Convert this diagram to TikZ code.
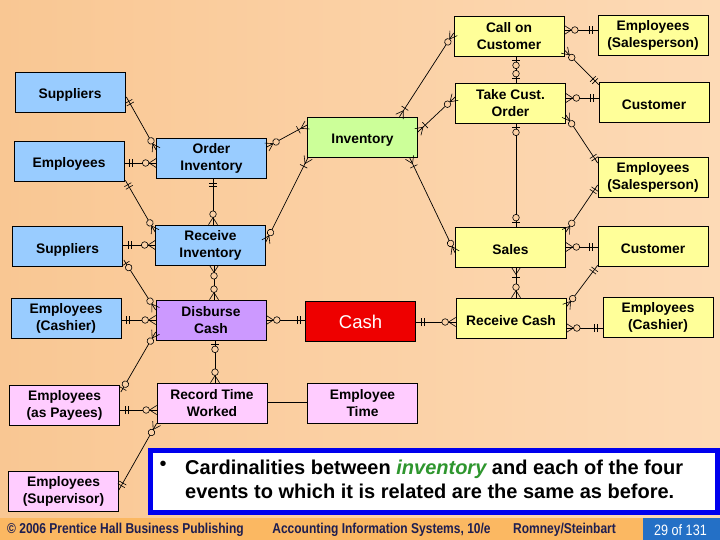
\documentclass[tikz,border=0pt]{standalone}
\usepackage{fontspec}
\setmainfont{Liberation Sans}
\newfontfamily\narrowfont[FakeStretch=0.84]{Liberation Sans}
\usetikzlibrary{decorations.markings,calc}
\definecolor{bgL}{HTML}{F9C793}
\definecolor{bgR}{HTML}{FDDAB6}
\definecolor{bgc}{HTML}{FBD0A4}
\definecolor{blueBox}{HTML}{99CCFF}
\definecolor{yelBox}{HTML}{FFFF99}
\definecolor{grnBox}{HTML}{CCFF99}
\definecolor{purBox}{HTML}{CC99FF}
\definecolor{redBox}{HTML}{EE0000}
\definecolor{pinkBox}{HTML}{FFCCFF}
\definecolor{frameBlue}{HTML}{0000EE}
\definecolor{invGreen}{HTML}{2E962E}
\definecolor{footOrange}{HTML}{FBB862}
\definecolor{footBlue}{HTML}{2470C6}
\definecolor{footText}{HTML}{1E1E50}
\tikzset{
  ent/.style={draw=black, line width=0.7pt, minimum width=110pt, minimum height=40pt,
    inner sep=0pt, align=center, font=\bfseries\fontsize{13.8}{17}\selectfont,
    execute at begin node={\rule{0pt}{16pt}}},
  cn/.style={draw=black, line width=0.7pt},
  tk/.style={line width=0.6pt},
  s1/.style={postaction={decorate,decoration={markings,
    mark=at position 5pt with {\draw[tk] (0pt,-4pt)--(0pt,4pt);},
    mark=at position 8pt with {\draw[tk] (0pt,-4pt)--(0pt,4pt);}}}},
  e1/.style={postaction={decorate,decoration={markings,
    mark=at position -5pt with {\draw[tk] (0pt,-4pt)--(0pt,4pt);},
    mark=at position -8pt with {\draw[tk] (0pt,-4pt)--(0pt,4pt);}}}},
  sZM/.style={postaction={decorate,decoration={markings,
    mark=at position 7pt with {\draw[tk] (-7pt,4.5pt)--(0pt,0pt)--(-7pt,-4.5pt);},
    mark=at position 10.5pt with {\draw[tk,fill=bgc] (0pt,0pt) circle (3.3pt);}}}},
  eZM/.style={postaction={decorate,decoration={markings,
    mark=at position -7pt with {\draw[tk] (7pt,4.5pt)--(0pt,0pt)--(7pt,-4.5pt);},
    mark=at position -10.5pt with {\draw[tk,fill=bgc] (0pt,0pt) circle (3.3pt);}}}},
  sZO/.style={postaction={decorate,decoration={markings,
    mark=at position 4pt with {\draw[tk] (0pt,-4pt)--(0pt,4pt);},
    mark=at position 9pt with {\draw[tk,fill=bgc] (0pt,0pt) circle (3.3pt);}}}},
  eZO/.style={postaction={decorate,decoration={markings,
    mark=at position -4pt with {\draw[tk] (0pt,-4pt)--(0pt,4pt);},
    mark=at position -9pt with {\draw[tk,fill=bgc] (0pt,0pt) circle (3.3pt);}}}},
  sOM/.style={postaction={decorate,decoration={markings,
    mark=at position 7pt with {\draw[tk] (-7pt,4.5pt)--(0pt,0pt)--(-7pt,-4.5pt);},
    mark=at position 10pt with {\draw[tk] (0pt,-4pt)--(0pt,4pt);}}}},
  eOM/.style={postaction={decorate,decoration={markings,
    mark=at position -7pt with {\draw[tk] (7pt,4.5pt)--(0pt,0pt)--(7pt,-4.5pt);},
    mark=at position -10pt with {\draw[tk] (0pt,-4pt)--(0pt,4pt);}}}},
  foot/.style={font=\narrowfont\bfseries\fontsize{14.3}{16}\selectfont, text=footText, inner sep=0pt}
}
\begin{document}
\begin{tikzpicture}[x=1pt,y=-1pt]
\useasboundingbox (0,0) rectangle (720,540);
\shade[left color=bgL, right color=bgR] (0,0) rectangle (720,518);
\fill[footOrange] (0,518) rectangle (643,540);
\fill[footBlue] (643,518) rectangle (720,540);

% entities / events
\node[ent, fill=blueBox] (sup1) at (70,92) {Suppliers};
\node[ent, fill=blueBox] (emp1) at (69,161) {Employees};
\node[ent, fill=blueBox] (ordInv) at (211.5,158) {Order\\Inventory};
\node[ent, fill=grnBox] (inv) at (362.5,137) {Inventory};
\node[ent, fill=yelBox] (callC) at (509,36) {Call on\\Customer};
\node[ent, fill=yelBox] (empS1) at (653,35) {Employees\\(Salesperson)};
\node[ent, fill=yelBox] (takeC) at (510.5,103) {Take Cust.\\Order};
\node[ent, fill=yelBox] (cust1) at (654,102) {Customer};
\node[ent, fill=yelBox] (empS2) at (653,177) {Employees\\(Salesperson)};
\node[ent, fill=blueBox] (sup2) at (67.5,246.5) {Suppliers};
\node[ent, fill=blueBox] (recInv) at (210.5,245) {Receive\\Inventory};
\node[ent, fill=blueBox] (empC1) at (66,318) {Employees\\(Cashier)};
\node[ent, fill=purBox] (disC) at (211,320) {Disburse\\Cash};
\node[ent, fill=redBox, font=\fontsize{18.5}{20}\selectfont, text=white] (cash) at (360.5,321) {Cash};
\node[ent, fill=pinkBox] (empP) at (64.5,405) {Employees\\(as Payees)};
\node[ent, fill=pinkBox] (recT) at (212,403) {Record Time\\Worked};
\node[ent, fill=pinkBox] (empT) at (362.5,403) {Employee\\Time};
\node[ent, fill=yelBox] (sales) at (510.5,247) {Sales};
\node[ent, fill=yelBox] (cust2) at (653,246) {Customer};
\node[ent, fill=yelBox] (recC) at (511,318) {Receive Cash};
\node[ent, fill=yelBox] (empC2) at (658,317) {Employees\\(Cashier)};
\node[ent, fill=pinkBox] (empSup) at (63.5,491.5) {Employees\\(Supervisor)};

% connectors
\draw[cn,s1,eZM] ($(sup1.east)+(1,5)$) -- ($(ordInv.west)+(0,-8)$);
\draw[cn,s1,eZM] ($(emp1.east)+(0,2)$) -- ($(ordInv.west)+(0,5)$);
\draw[cn,s1,eZM] ($(emp1.south east)+(1,-1)$) -- ($(recInv.west)+(0,-13)$);
\draw[cn,s1,eZM] ($(ordInv.south)+(1.5,0)$) -- ($(recInv.north)+(2.5,0)$);
\draw[cn,sZM,eOM] ($(ordInv.east)+(0,-11)$) -- ($(inv.west)+(0,-12)$);
\draw[cn,sOM,eZM] ($(inv.south west)+(1,0)$) -- ($(recInv.east)+(0,-3)$);
\draw[cn,sOM,eZM] ($(inv.north)+(37,0)$) -- ($(callC.west)+(0,-3)$);
\draw[cn,sOM,eZM] ($(inv.east)+(0,-5)$) -- ($(takeC.west)+(0,-6)$);
\draw[cn,sOM,eZM] ($(inv.south)+(47,0)$) -- ($(sales.west)+(0,6)$);
\draw[cn,sZM,e1] ($(callC.east)+(0,-6)$) -- ($(empS1.west)+(0,-5)$);
\draw[cn,sZM,e1] ($(callC.east)+(0,14)$) -- ($(cust1.north west)+(0,3)$);
\draw[cn,sZO,eZO] ($(callC.south)+(7,0)$) -- ($(takeC.north)+(5.5,0)$);
\draw[cn,sZM,e1] ($(takeC.east)+(0,-5)$) -- ($(cust1.west)+(0,-4)$);
\draw[cn,sZM,e1] ($(takeC.east)+(0,12)$) -- ($(empS2.west)+(0,-14)$);
\draw[cn,sZO,eZO] ($(takeC.south)+(5.5,0)$) -- ($(sales.north)+(5.5,0)$);
\draw[cn,sZM,e1] (sales.east) -- (sales.east -| cust2.west);
\draw[cn,sZM,e1] ($(sales.east)+(0,-15)$) -- ($(empS2.west)+(0,8)$);
\draw[cn,sOM,eZM] ($(sales.south)+(5.5,0)$) -- ($(recC.north)+(5,0)$);
\draw[cn,sZM,e1] ($(recC.east)+(0,-11)$) -- ($(cust2.south west)+(0,-1)$);
\draw[cn,sZM,e1] ($(recC.east)+(0,10)$) -- ($(empC2.west)+(0,11)$);
\draw[cn,s1,eZM] ($(cash.east)+(0,1)$) -- ($(recC.west)+(0,4)$);
\draw[cn,sZM,e1] (disC.east) -- (disC.east -| cash.west);
\draw[cn,sZM,eZM] ($(recInv.south)+(3.5,0)$) -- ($(disC.north)+(3,0)$);
\draw[cn,s1,eZM] ($(sup2.east)+(0,-1.5)$) -- (recInv.west);
\draw[cn,sZO,eZM] ($(sup2.east)+(1,13.5)$) -- ($(disC.west)+(0,-10)$);
\draw[cn,s1,eZM] ($(empC1.east)+(0,2)$) -- (disC.west);
\draw[cn,sZM,eZO] ($(disC.west)+(0,12)$) -- ($(empP.east)+(1,-13)$);
\draw[cn,sZO,eZM] ($(disC.south)+(4,0)$) -- ($(recT.north)+(3,0)$);
\draw[cn,s1,eZM] ($(empP.east)+(0,5)$) -- ($(recT.west)+(0,7)$);
\draw[cn] ($(recT.east)+(0,-1)$) -- ($(empT.west)+(0,-1)$);
\draw[cn,sZM,e1] (recT.south west) -- ($(empSup.east)+(0,-1.5)$);

% note box
\node[draw=frameBlue, line width=5pt, fill=white, minimum width=567pt, minimum height=62pt, inner sep=0pt] (note) at (434,481.5) {};
\node[font=\fontsize{20}{24}\selectfont, inner sep=0pt] (bul) at (163,466) {•};
\node[font=\bfseries\fontsize{20}{24}\selectfont, align=left, anchor=west, inner sep=0pt] (ntxt) at (185,479)
  {Cardinalities between {\color{invGreen}\itshape inventory} and each of the four\\events to which it is related are the same as before.};

% footer
\node[foot, anchor=west] (f1) at (7,530) {© 2006 Prentice Hall Business Publishing};
\node[foot] (f2) at (381.5,530) {Accounting Information Systems, 10/e};
\node[foot] (f3) at (564.5,530) {Romney/Steinbart};
\node[foot, font=\narrowfont\fontsize{15}{16}\selectfont, text=white] (f4) at (680.5,530) {29 of 131};
\end{tikzpicture}
\end{document}
